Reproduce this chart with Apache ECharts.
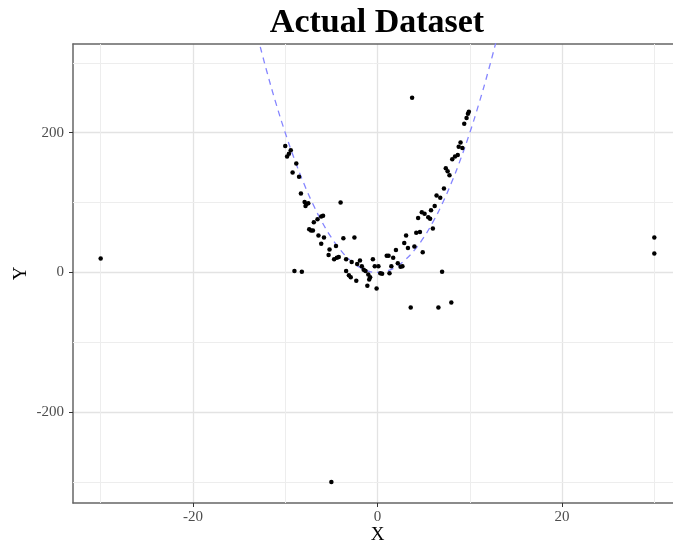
<!DOCTYPE html>
<html><head><meta charset="utf-8">
<script src="https://cdn.jsdelivr.net/npm/echarts@6/dist/echarts.min.js"></script>
<style>html,body{margin:0;padding:0;background:#fff}#c{width:673px;height:542px}</style>
</head><body><div id="c"></div>
<script>
const titleText = 'Actual Dataset';
const xName = 'X';
const yName = 'Y';
const xTicks = [-20, 0, 20];
const yTicks = [-200, 0, 200];
const xMinor = [-30, -10, 10, 30];
const yMinor = [-300, -100, 100, 300];

const pointsX = [
  -10.0, -9.4, -9.6, -9.8, -8.8, -9.2, -8.5, -8.3, -7.9, -7.7, -7.5, -7.8,
  -6.5, -6.1, -5.9, -6.9, -7.4, -7.2, -7.0,
  -6.4, -5.8, -6.1, -5.2, -4.5, -5.3, -4.7, -4.4, -4.2, -3.4, -2.8, -1.9, -2.2, -1.7, -1.5, -1.3,
  -3.7, -2.5, -4.0,
  -3.4, -3.1, -2.9, -2.3, -1.0, -0.8, -0.9, -1.1, -0.1, -9.0, -8.2,
  -0.5, -0.3, 0.1, 0.3, 0.5, 1.0, 1.2, 1.7, 1.3, 1.5, 2.0, 2.2, 2.5, 2.7,
  2.9, 3.1, 3.3, 4.0, 4.9, 4.2, 4.6, 4.4, 4.8, 5.1, 5.5, 5.7, 5.8, 6.2, 6.0,
  6.4, 6.8, 7.2, 7.4, 7.6, 7.8, 8.1, 8.4, 8.7, 8.8, 9.0, 9.2, 9.4, 9.65, 9.8, 9.9,
  7.0, 3.6, 6.6, 8.0, 3.75, -30, -5, 30, 30
];
const pointsY = [
  181, 175, 170, 166, 156, 143, 137, 113, 101, 98, 99, 95,
  76, 80, 81, 72, 62, 60, 60,
  53, 50, 41, 33, 38, 25, 19, 21, 22, 19, 15, 17, 12, 9, 4, 2,
  49, 50, 100,
  2, -4, -7, -12, -3, -7, -10, -19, -23, 2, 1,
  19, 9, 9, -1, -2, 24, 24, 21, -1, 9, 32, 13, 8, 9,
  42, 53, 35, 37, 29, 57, 58, 78, 86, 84, 79, 77, 89, 95, 63,
  110, 107, 120, 149, 145, 139, 162, 166, 168, 180, 186, 178, 213, 221, 227, 230,
  1, -50, -50, -43, 250, 20, -300, 50, 27
];
const curveX = [-13, -12, -11, -10, -9, -8, -7, -6, -5, -4, -3, -2, -1, 0, 1, 2, 3, 4, 5, 6, 7, 8, 9, 10, 11, 12, 13];
const curveY = [338, 288, 242, 200, 162, 128, 98, 72, 50, 32, 18, 8, 2, 0, 2, 8, 18, 32, 50, 72, 98, 128, 162, 200, 242, 288, 338];

const serif = '"Liberation Serif", "DejaVu Serif", serif';
const chart = echarts.init(document.getElementById('c'), null, {renderer: 'canvas'});

const minorLines = [];
xMinor.forEach(v => minorLines.push({xAxis: v}));
yMinor.forEach(v => minorLines.push({yAxis: v}));

chart.setOption({
  animation: false,
  backgroundColor: '#fff',
  title: {
    text: titleText, left: 372, top: 1, textAlign: 'center',
    textStyle: {fontFamily: serif, fontWeight: 'bold', fontSize: 34, color: '#000'}
  },
  grid: {left: 73, right: -9, top: 44, bottom: 39, containLabel: false, outerBoundsMode: 'none'},
  xAxis: [{
    type: 'value', min: -33, max: 33,
    name: xName, nameLocation: 'middle', nameGap: 23, nameMoveOverlap: false,
    nameTextStyle: {fontFamily: serif, fontSize: 19, color: '#000'},
    axisLine: {show: true, onZero: false, lineStyle: {color: '#666', width: 1.5}},
    axisTick: {show: true, length: 4, customValues: xTicks, lineStyle: {color: '#333', width: 1}},
    axisLabel: {customValues: xTicks, margin: 7, fontFamily: serif, fontSize: 15, color: '#4d4d4d'},
    splitLine: {show: true, lineStyle: {color: '#e3e3e3', width: 1.3}}
  }, {
    type: 'value', min: -33, max: 33, position: 'top',
    axisLine: {show: true, onZero: false, lineStyle: {color: '#666', width: 1.5}},
    axisTick: {show: false}, axisLabel: {show: false}, splitLine: {show: false}
  }],
  yAxis: [{
    type: 'value', min: -330, max: 327,
    name: yName, nameLocation: 'middle', nameGap: 42, nameRotate: 90, nameMoveOverlap: false,
    nameTextStyle: {fontFamily: serif, fontSize: 19, color: '#000'},
    axisLine: {show: true, onZero: false, lineStyle: {color: '#666', width: 1.5}},
    axisTick: {show: true, length: 4, customValues: yTicks, lineStyle: {color: '#333', width: 1}},
    axisLabel: {customValues: yTicks, margin: 9, fontFamily: serif, fontSize: 15, color: '#4d4d4d'},
    splitLine: {show: true, lineStyle: {color: '#e3e3e3', width: 1.3}}
  }],
  series: [{
    type: 'scatter', data: [], z: 1, silent: true,
    markLine: {
      silent: true, symbol: 'none', z: 1, animation: false,
      label: {show: false},
      lineStyle: {color: '#ededed', width: 1, type: 'solid'},
      data: minorLines
    }
  }, {
    type: 'line', z: 2, silent: true, showSymbol: false, symbol: 'none',
    data: curveX.map((x, i) => [x, curveY[i]]),
    smooth: true, clip: true,
    lineStyle: {color: '#8585ff', width: 1.3, type: [6, 5]}
  }, {
    type: 'scatter', z: 3, silent: true,
    symbolSize: 4.5,
    itemStyle: {color: '#000', opacity: 1},
    data: pointsX.map((x, i) => [x, pointsY[i]])
  }]
});
</script>
</body></html>
